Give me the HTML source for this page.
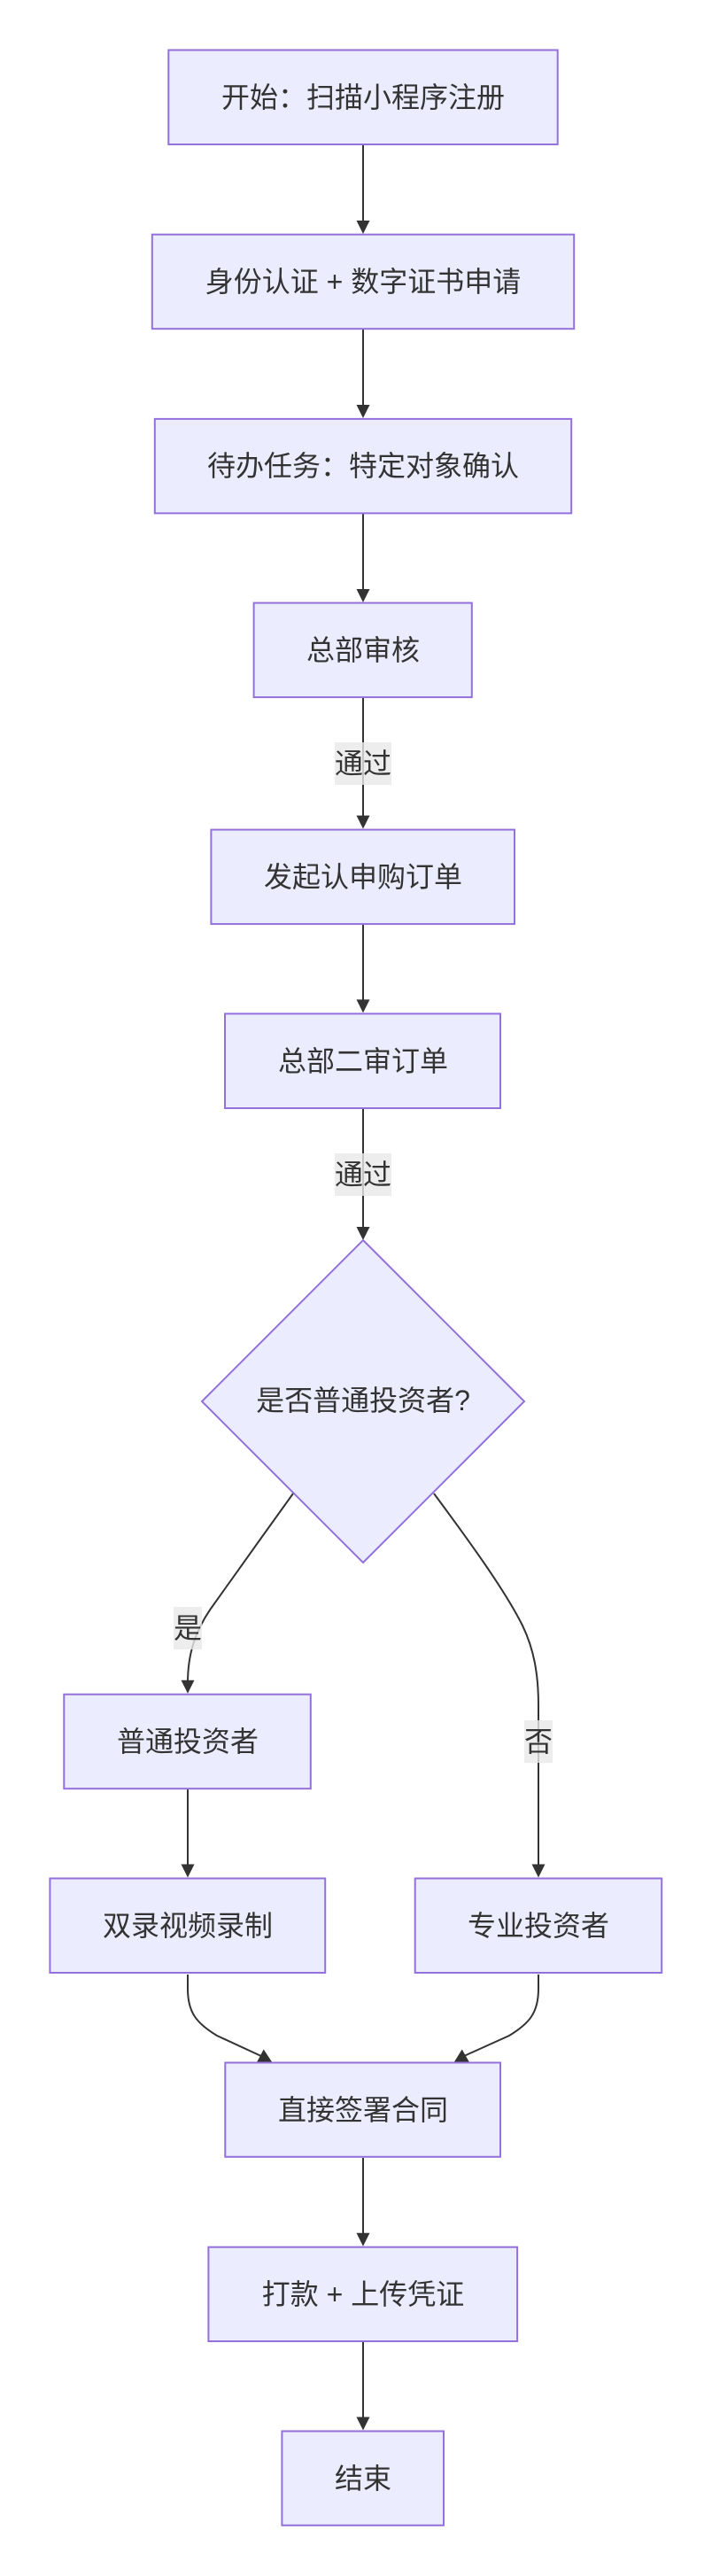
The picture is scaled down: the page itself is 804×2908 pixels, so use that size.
<!DOCTYPE html>
<html>
<head>
<meta charset="utf-8">
<style>
  html, body { margin: 0; padding: 0; background: #ffffff; }
  body { width: 804px; height: 2908px; overflow: hidden; }
  svg { display: block; }
  .box { fill: #ECECFF; stroke: #9370DB; stroke-width: 2; }
  .edge { fill: none; stroke: #333333; stroke-width: 2; }
  .ah { fill: #333333; stroke: none; }
  .t { font-family: "Liberation Sans", "Noto Sans CJK SC", sans-serif; font-size: 32px; fill: #333333; text-anchor: middle; dominant-baseline: central; }
  .lbl { fill: rgba(232,232,232,0.8); stroke: none; }
</style>
</head>
<body>
<svg width="804" height="2908" viewBox="0 0 804 2908" xmlns="http://www.w3.org/2000/svg">
  <!-- straight edges -->
  <path class="edge" d="M410,164 L410,252"/>
  <path class="edge" d="M410,372 L410,460"/>
  <path class="edge" d="M410,580 L410,668"/>
  <path class="edge" d="M410,788 L410,924"/>
  <path class="edge" d="M410,1044 L410,1132"/>
  <path class="edge" d="M410,1252 L410,1388"/>
  <path class="edge" d="M212,2020 L212,2108"/>
  <path class="edge" d="M410,2436 L410,2524"/>
  <path class="edge" d="M410,2644 L410,2732"/>

  <!-- curved edges from diamond -->
  <path class="edge" d="M331,1686 C300,1729 260,1785 238,1816 C220,1842 212,1868 212,1900"/>
  <path class="edge" d="M490,1686 C530,1740 570,1795 590,1835 C603,1862 608,1890 608,1925 L608,2108"/>

  <!-- curved edges into 直接签署合同 -->
  <path class="edge" d="M212,2229 L212,2245 C212,2272 222,2284 245,2298 L297,2322"/>
  <path class="edge" d="M608,2229 L608,2245 C608,2272 598,2284 575,2298 L524,2321"/>

  <!-- arrowheads (vertical) -->
  <polygon class="ah" points="402.5,249 417.5,249 410,264"/>
  <polygon class="ah" points="402.5,457 417.5,457 410,472"/>
  <polygon class="ah" points="402.5,665 417.5,665 410,680"/>
  <polygon class="ah" points="402.5,920.6 417.5,920.6 410,935.6"/>
  <polygon class="ah" points="402.5,1128.4 417.5,1128.4 410,1143.4"/>
  <polygon class="ah" points="402.5,1385 417.5,1385 410,1400"/>
  <polygon class="ah" points="204.5,1896.7 219.5,1896.7 212,1911.7"/>
  <polygon class="ah" points="204.5,2104.5 219.5,2104.5 212,2119.5"/>
  <polygon class="ah" points="600.5,2104.5 615.5,2104.5 608,2119.5"/>
  <polygon class="ah" points="402.5,2520.7 417.5,2520.7 410,2535.7"/>
  <polygon class="ah" points="402.5,2728.5 417.5,2728.5 410,2743.5"/>
  <!-- arrowheads (diagonal) -->
  <polygon class="ah" points="290,2328 297.7,2313.5 307.3,2328"/>
  <polygon class="ah" points="512.7,2328 521.7,2313.5 530,2328"/>

  <!-- nodes -->
  <rect class="box" x="190.3" y="56.5" width="439.4" height="106.5"/>
  <text class="t" x="410" y="110">开始：扫描小程序注册</text>

  <rect class="box" x="171.8" y="264.7" width="476.4" height="106.5"/>
  <text class="t" x="410" y="318">身份认证 + 数字证书申请</text>

  <rect class="box" x="174.8" y="472.9" width="470.4" height="106.5"/>
  <text class="t" x="410" y="526">待办任务：特定对象确认</text>

  <rect class="box" x="286.6" y="680.6" width="246.2" height="106.5"/>
  <text class="t" x="410" y="734">总部审核</text>

  <rect class="box" x="238.4" y="936.6" width="342.6" height="106.5"/>
  <text class="t" x="410" y="990">发起认申购订单</text>

  <rect class="box" x="254" y="1144.4" width="311" height="106.6"/>
  <text class="t" x="410" y="1198">总部二审订单</text>

  <polygon class="box" points="410,1400 592,1582 410,1764 228,1582"/>
  <text class="t" x="410" y="1581">是否普通投资者?</text>

  <rect class="box" x="72.3" y="1912.7" width="278.5" height="106.5"/>
  <text class="t" x="212" y="1966">普通投资者</text>

  <rect class="box" x="56.4" y="2120.5" width="310.8" height="106.5"/>
  <text class="t" x="212" y="2174">双录视频录制</text>

  <rect class="box" x="468.7" y="2120.5" width="278.5" height="106.5"/>
  <text class="t" x="608" y="2174">专业投资者</text>

  <rect class="box" x="254.3" y="2328.5" width="310.7" height="106.3"/>
  <text class="t" x="410" y="2382">直接签署合同</text>

  <rect class="box" x="235.4" y="2536.7" width="348.7" height="106.3"/>
  <text class="t" x="410" y="2590">打款 + 上传凭证</text>

  <rect class="box" x="318.4" y="2744.5" width="182.6" height="106.3"/>
  <text class="t" x="410" y="2798">结束</text>

  <!-- edge labels -->
  <rect class="lbl" x="378" y="838" width="64" height="48"/>
  <text class="t" x="410" y="862">通过</text>

  <rect class="lbl" x="378" y="1302" width="64" height="48"/>
  <text class="t" x="410" y="1326">通过</text>

  <rect class="lbl" x="196" y="1814" width="32" height="48"/>
  <text class="t" x="212" y="1838">是</text>

  <rect class="lbl" x="592" y="1942" width="32" height="48"/>
  <text class="t" x="608" y="1966">否</text>
</svg>
</body>
</html>
